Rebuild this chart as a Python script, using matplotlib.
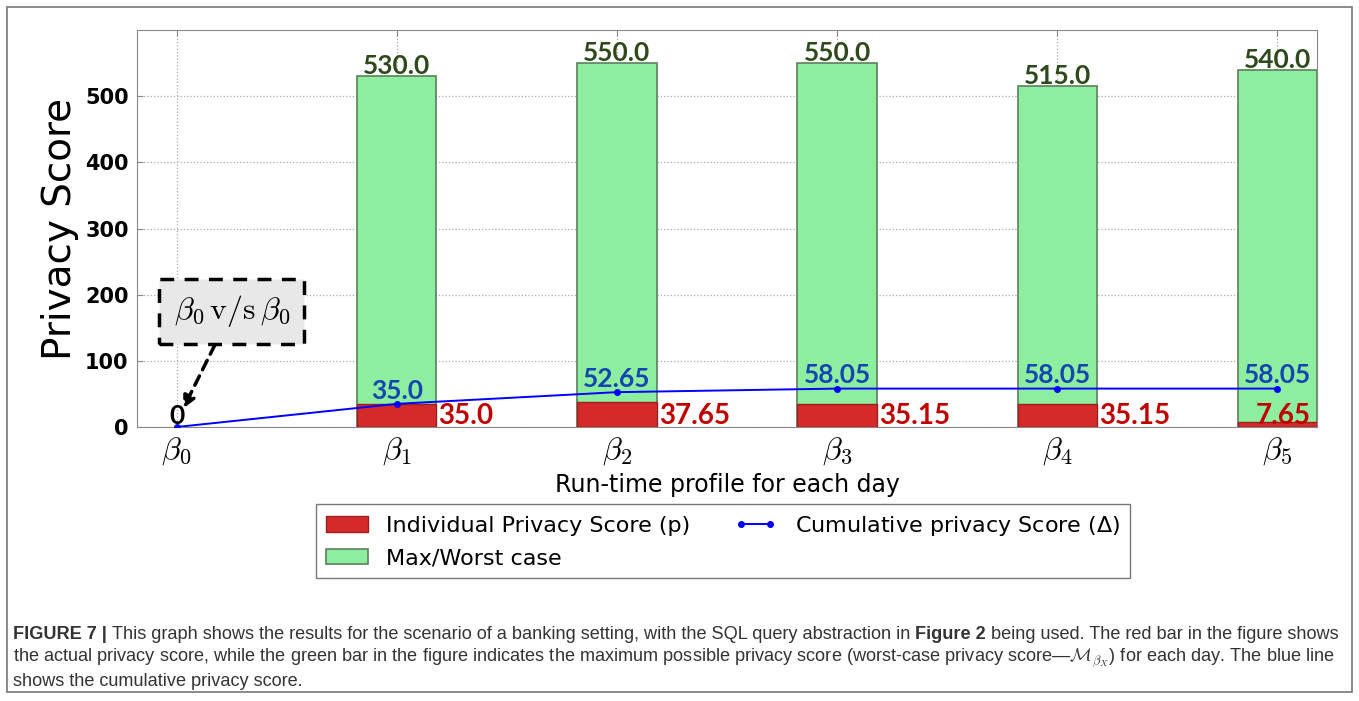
import matplotlib
matplotlib.use('Agg')
import matplotlib.pyplot as plt
from matplotlib.patches import Rectangle

# data
days = [r'$\beta_0$', r'$\beta_1$', r'$\beta_2$', r'$\beta_3$', r'$\beta_4$', r'$\beta_5$']
individual = [0, 35.0, 37.65, 35.15, 35.15, 7.65]
worst_case = [0, 530.0, 550.0, 550.0, 515.0, 540.0]
cumulative = [0, 35.0, 52.65, 58.05, 58.05, 58.05]

W, H = 1359, 701
fig = plt.figure(figsize=(W / 100, H / 100), dpi=100)
fig.patch.set_facecolor('white')

# outer frame round the whole figure + caption
fig.add_artist(Rectangle((7 / W, 1 - 692 / H), 1345 / W, 685 / H, transform=fig.transFigure,
                         fill=False, edgecolor='#777777', linewidth=1.2))

ax = fig.add_axes([137 / W, 1 - 427 / H, (1317 - 137) / W, (427 - 30) / H])
x = list(range(len(days)))
bw = 0.36

green = ax.bar(x[1:], worst_case[1:], width=bw, color='#8eeea0', edgecolor='#5c7f5c', linewidth=1.2,
               label='Max/Worst case', zorder=2)
red = ax.bar(x[1:], individual[1:], width=bw, color='#d62a2a', edgecolor='#9a2020', linewidth=1.0,
             label='Individual Privacy Score (p)', zorder=3)
line, = ax.plot(x, cumulative, color='#0000ff', marker='o', markersize=4, linewidth=1.4,
                label=r'Cumulative privacy Score ($\Delta$)', zorder=4)

lab_font = dict(family='Lato', weight='bold', fontsize=19)
for i in x[1:]:
    ax.text(i, worst_case[i] + 3, f'{worst_case[i]:.1f}', ha='center', va='baseline',
            color='#2e4a1c', zorder=6, **lab_font)
    ax.text(i, cumulative[i] + 8, f'{cumulative[i]:g}' if cumulative[i] % 1 else f'{cumulative[i]:.1f}',
            ha='center', va='baseline', color='#1346b0', zorder=6, **lab_font)
    rtxt = f'{individual[i]:g}' if individual[i] % 1 else f'{individual[i]:.1f}'
    if i < len(x) - 1:
        ax.text(i + bw / 2 + 0.01, 5, rtxt, ha='left', va='baseline', color='#c00000', zorder=6,
                family='Lato', weight='bold', fontsize=20)
    else:
        ax.text(i + 0.15, 5, rtxt, ha='right', va='baseline', color='#c00000', zorder=6,
                family='Lato', weight='bold', fontsize=20)
ax.text(0, 5, '0', ha='center', va='baseline', color='black', zorder=6, **lab_font)

ax.annotate(r'$\beta_0\,\mathrm{v/s}\,\beta_0$', xy=(0.03, 28), xytext=(0.25, 175),
            ha='center', va='center', fontsize=23, math_fontfamily='cm',
            bbox=dict(boxstyle='square,pad=0.45', facecolor='#e8e8e8', edgecolor='black',
                      linestyle=(0, (4, 3)), linewidth=2.5),
            arrowprops=dict(arrowstyle='-|>', color='black', linestyle=(0, (3, 2)), linewidth=2.5,
                            shrinkA=0, shrinkB=0, mutation_scale=18))

ax.set_xlim(-0.18, 5.18)
ax.set_ylim(0, 600)
ax.set_xticks(x)
ax.set_xticklabels(days, fontsize=23, math_fontfamily='cm')
ax.set_yticks([0, 100, 200, 300, 400, 500])
for t in ax.get_yticklabels():
    t.set_fontweight('bold')
    t.set_fontsize(15)
ax.tick_params(direction='in', top=True, right=True, length=4, color='#888888', pad=6)
ax.grid(True, linestyle=':', color='#aaaaaa', linewidth=0.9, zorder=0)
ax.set_axisbelow(True)
for s in ax.spines.values():
    s.set_color('#888888')

ax.set_ylabel('Privacy Score', fontsize=28, labelpad=4)
ax.set_xlabel('Run-time profile for each day', fontsize=17, labelpad=4)

leg = fig.legend([red, green, line], [red.get_label(), green.get_label(), line.get_label()],
                 ncol=2, loc='center', bbox_to_anchor=(723 / W, 1 - 541 / H),
                 prop=dict(family='Liberation Sans Narrow', size=16), numpoints=2,
                 fancybox=False, edgecolor='#777777', framealpha=1, handlelength=1.9,
                 columnspacing=2.0, borderpad=0.45, labelspacing=0.55)

# caption
cap = dict(family='Liberation Sans', fontsize=13.1, color='#333333', va='bottom')
t1 = fig.text(13 / W, 1 - 643 / H, 'FIGURE 7 | ', weight='bold', **cap)
t2 = ax.annotate('This graph shows the results for the scenario of a banking setting, with the SQL query abstraction in ',
                 xy=(1, 0), xycoords=t1, **cap)
t3 = ax.annotate('Figure 2', xy=(1, 0), xycoords=t2, weight='bold', **cap)
ax.annotate(' being used. The red bar in the figure shows', xy=(1, 0), xycoords=t3, **cap)
cap['va'] = 'baseline'
fig.text(13 / W, 1 - 662 / H,
         'the actual privacy score, while the green bar in the figure indicates the maximum possible privacy score '
         r'(worst-case privacy score—$\mathcal{M}_{\beta_X}$) for each day. The blue line',
         math_fontfamily='cm', **cap)
fig.text(13 / W, 1 - 686 / H, 'shows the cumulative privacy score.', **cap)

fig.savefig('out.png', dpi=100)
